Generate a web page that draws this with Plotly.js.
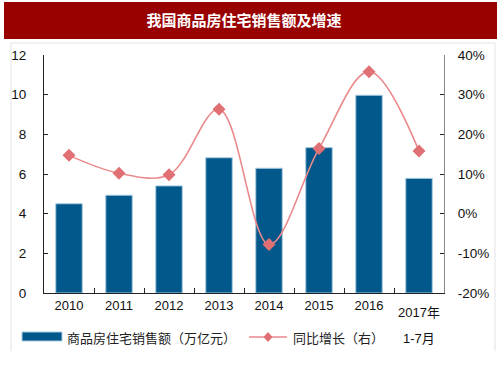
<!DOCTYPE html>
<html><head><meta charset="utf-8">
<script src="https://cdn.plot.ly/plotly-3.0.1.min.js"></script>
<style>html,body{margin:0;padding:0;background:#fff;}#chart{width:503px;height:378px;}</style>
</head><body><div id="chart"></div>
<script>
const categories = ["2010","2011","2012","2013","2014","2015","2016","2017"];
const tickLabels = ["2010","2011","2012","2013","2014","2015","2016",""];
const salesValues = [4.5, 4.93, 5.4, 6.82, 6.29, 7.33, 9.97, 5.78];
const growthValues = [0.147, 0.102, 0.098, 0.263, -0.078, 0.164, 0.358, 0.158];
const rightTickVals = [-0.2, -0.1, 0, 0.1, 0.2, 0.3, 0.4];
const rightTickText = ["-20%", "-10%", "0%", "10%", "20%", "30%", "40%"];
const barName = "商品房住宅销售额（万亿元）";
const lineName = "同比增长（右）";
const lastLabel = ["2017年", "1-7月"];
const titleText = "我国商品房住宅销售额及增速";

const L = 44, T = 55, W = 400, H = 238;
const px = x => (x - L) / W;
const py = y => (T + H - y) / H;

const FONT = "Liberation Sans, Arial, Noto Sans CJK SC, sans-serif";
const CJK = "Noto Sans CJK SC, sans-serif";

const bar = {
  type: "bar", x: categories, y: salesValues, name: barName,
  marker: {color: "#02578B", line: {color: "#A8CBE0", width: 1}},
  showlegend: false, hoverinfo: "skip"
};
const line = {
  type: "scatter", mode: "lines+markers", x: categories, y: growthValues, yaxis: "y2",
  name: lineName, line: {color: "#EB8A8C", width: 1.6, shape: "spline", smoothing: 1},
  marker: {symbol: "diamond", size: 10, color: "#E07074"},
  showlegend: false, hoverinfo: "skip"
};

const dx = 4.5 / W, dy = 5 / H;
const dcx = px(268), dcy = py(337);
const shapes = [
  {type: "rect", xref: "paper", yref: "paper", x0: px(4), x1: px(497), y0: py(39), y1: py(2), fillcolor: "#990000", line: {width: 0}, layer: "below"},
  {type: "line", xref: "paper", yref: "paper", x0: px(11), x1: px(495), y0: py(43), y1: py(43), line: {color: "#E3E3E3", width: 1}},
  {type: "line", xref: "paper", yref: "paper", x0: px(11), x1: px(11), y0: py(43), y1: py(351), line: {color: "#E3E3E3", width: 1}},
  {type: "line", xref: "paper", yref: "paper", x0: px(495), x1: px(495), y0: py(43), y1: py(351), line: {color: "#E3E3E3", width: 1}},
  {type: "rect", xref: "paper", yref: "paper", x0: px(22), x1: px(62), y0: py(341), y1: py(332), fillcolor: "#02578B", line: {color: "#A8CBE0", width: 1}},
  {type: "line", xref: "paper", yref: "paper", x0: px(249), x1: px(287), y0: dcy, y1: dcy, line: {color: "#EB8A8C", width: 1.6}},
  {type: "path", xref: "paper", yref: "paper",
   path: `M ${dcx-dx},${dcy} L ${dcx},${dcy+dy} L ${dcx+dx},${dcy} L ${dcx},${dcy-dy} Z`,
   fillcolor: "#E07074", line: {width: 0}}
];

const annotations = [
  {xref: "paper", yref: "paper", x: px(65), y: py(337), xanchor: "left", yanchor: "middle", showarrow: false,
   text: barName, font: {family: CJK, size: 13, color: "#222"}},
  {xref: "paper", yref: "paper", x: px(291), y: py(337), xanchor: "left", yanchor: "middle", showarrow: false,
   text: lineName, font: {family: CJK, size: 13, color: "#222"}},
  {xref: "x", yref: "paper", x: categories.length - 1, y: py(312), xanchor: "center", yanchor: "middle", showarrow: false,
   text: lastLabel[0], font: {family: FONT, size: 13, color: "#111"}},
  {xref: "x", yref: "paper", x: categories.length - 1, y: py(338), xanchor: "center", yanchor: "middle", showarrow: false,
   text: lastLabel[1], font: {family: FONT, size: 13, color: "#111"}}
];

const layout = {
  width: 503, height: 378,
  margin: {l: L, r: 503 - L - W, t: T, b: 378 - T - H, pad: 0},
  paper_bgcolor: "#fff", plot_bgcolor: "rgba(0,0,0,0)",
  title: {text: "<b>" + titleText + "</b>", x: 0.5, xref: "paper", xanchor: "center",
          y: 1 - 20.5 / 378, yref: "container", yanchor: "middle",
          font: {family: CJK, size: 15, color: "#fff"}},
  bargap: 0.47,
  xaxis: {type: "category", tickvals: categories, ticktext: tickLabels, tickson: "boundaries",
          ticks: "inside", ticklen: 5, tickcolor: "#222", showline: true, linecolor: "#222", linewidth: 1,
          showgrid: false, zeroline: false, fixedrange: true,
          tickfont: {family: FONT, size: 13, color: "#111"}, range: [-0.5, 7.5]},
  yaxis: {range: [0, 12], dtick: 2, ticks: "inside", ticklen: 4, tickcolor: "#222",
          showline: true, linecolor: "#222", linewidth: 1, showgrid: false, zeroline: false,
          tickfont: {family: FONT, size: 13.5, color: "#111"}, ticklabelstandoff: 14},
  yaxis2: {overlaying: "y", side: "right", range: [-0.2, 0.4], tickvals: rightTickVals, ticktext: rightTickText,
           ticks: "inside", ticklen: 4, tickcolor: "#222", showline: true, linecolor: "#888", linewidth: 1,
           showgrid: false, zeroline: false,
           tickfont: {family: FONT, size: 13.5, color: "#111"}, ticklabelstandoff: 10},
  shapes: shapes, annotations: annotations, showlegend: false
};

Plotly.newPlot("chart", [bar, line], layout, {displayModeBar: false, staticPlot: true});
</script></body></html>
